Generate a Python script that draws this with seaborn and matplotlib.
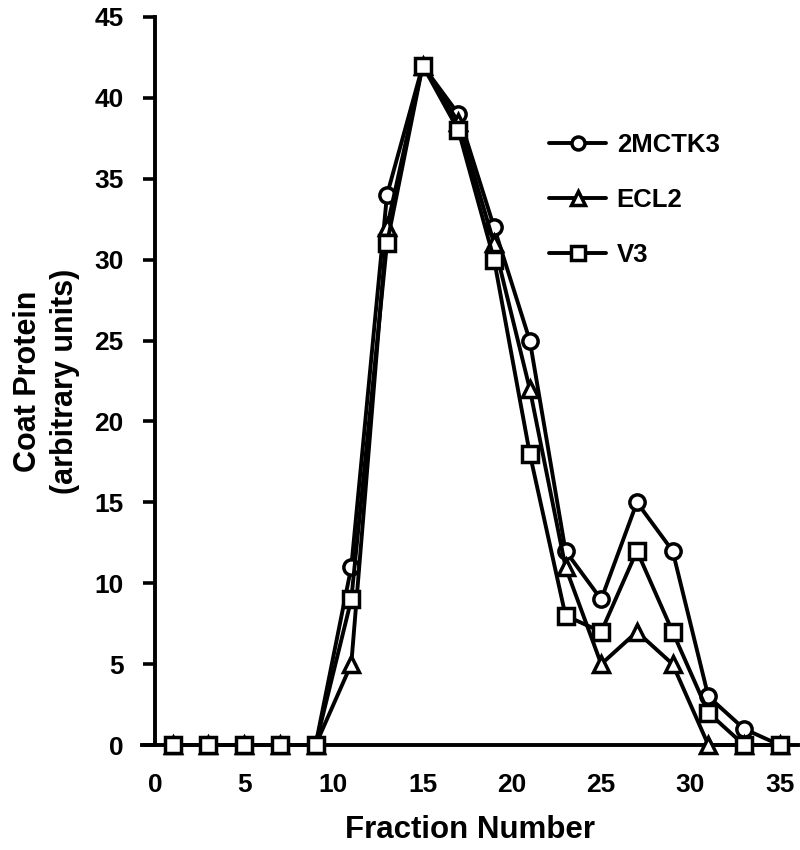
import numpy as np
import pandas as pd
import seaborn as sns
import matplotlib.pyplot as plt

# fraction numbers and coat protein readings
fractions = [1, 3, 5, 7, 9, 11, 13, 15, 17, 19, 21, 23, 25, 27, 29, 31, 33, 35]
mctk3 = [0, 0, 0, 0, 0, 11, 34, 42, 39, 32, 25, 12, 9, 15, 12, 3, 1, 0]
ecl2 = [0, 0, 0, 0, 0, 5, 32, 42, 38.5, 31, 22, 11, 5, 7, 5, 0, 0, 0]
v3 = [0, 0, 0, 0, 0, 9, 31, 42, 38, 30, 18, 8, 7, 12, 7, 2, 0, 0]

series = [("2MCTK3", mctk3, "o", 11), ("ECL2", ecl2, "^", 12), ("V3", v3, "s", 12)]

sns.set_style("white")
plt.rcParams['font.family'] = ['Liberation Sans', 'DejaVu Sans']
plt.rcParams['font.weight'] = 'bold'
plt.rcParams['text.color'] = 'black'
plt.rcParams['axes.labelcolor'] = 'black'
plt.rcParams['xtick.color'] = 'black'
plt.rcParams['ytick.color'] = 'black'

fig = plt.figure(figsize=(8, 8.5), dpi=100)
ax = fig.add_axes([0.178, 0.1235, 0.819, 0.8565])

for name, vals, mk, ms in series:
    df = pd.DataFrame({"x": fractions, "y": vals})
    sns.lineplot(data=df, x="x", y="y", ax=ax, color="black", lw=2.8,
                 marker=mk, markersize=ms, markerfacecolor="white",
                 markeredgecolor="black", markeredgewidth=2.5,
                 estimator=None, label=name, clip_on=False, zorder=5)

ax.set_xlim(-0.7, 36)
ax.set_ylim(0, 45)
ax.spines['left'].set_position(('data', 0))
ax.spines['top'].set_visible(False)
ax.spines['right'].set_visible(False)
for s in ['left', 'bottom']:
    ax.spines[s].set_linewidth(2.8)
    ax.spines[s].set_color("black")

ax.set_xticks(np.arange(0, 36, 5))
ax.set_xticks(np.arange(0, 37, 1), minor=True)
ax.set_yticks(np.arange(0, 46, 5))
ax.tick_params(axis='x', which='major', direction='in', length=9, width=2.6,
               labelsize=19, pad=20)
ax.tick_params(axis='x', which='minor', direction='in', length=5, width=2.6)
ax.tick_params(axis='y', which='major', direction='out', length=8.5, width=2.6,
               labelsize=19, pad=14, left=True)
for t in ax.get_xticklabels() + ax.get_yticklabels():
    t.set_fontweight('bold')

ax.set_xlabel("Fraction Number", fontsize=22.5, fontweight='bold')
ax.xaxis.set_label_coords(0.5, -0.096)
ax.set_ylabel("Coat Protein\n(arbitrary units)", fontsize=22,
              fontweight='bold', linespacing=1.3)
ax.yaxis.set_label_coords(-0.095, 0.5)

ax.legend(loc='upper left', bbox_to_anchor=(0.62, 0.84), frameon=False,
          prop={'weight': 'bold', 'size': 18.5}, handlelength=2.25,
          labelspacing=1.2, handletextpad=0.4, borderaxespad=0, borderpad=0,
          markerscale=0.85)

fig.savefig("out.png", dpi=100)
